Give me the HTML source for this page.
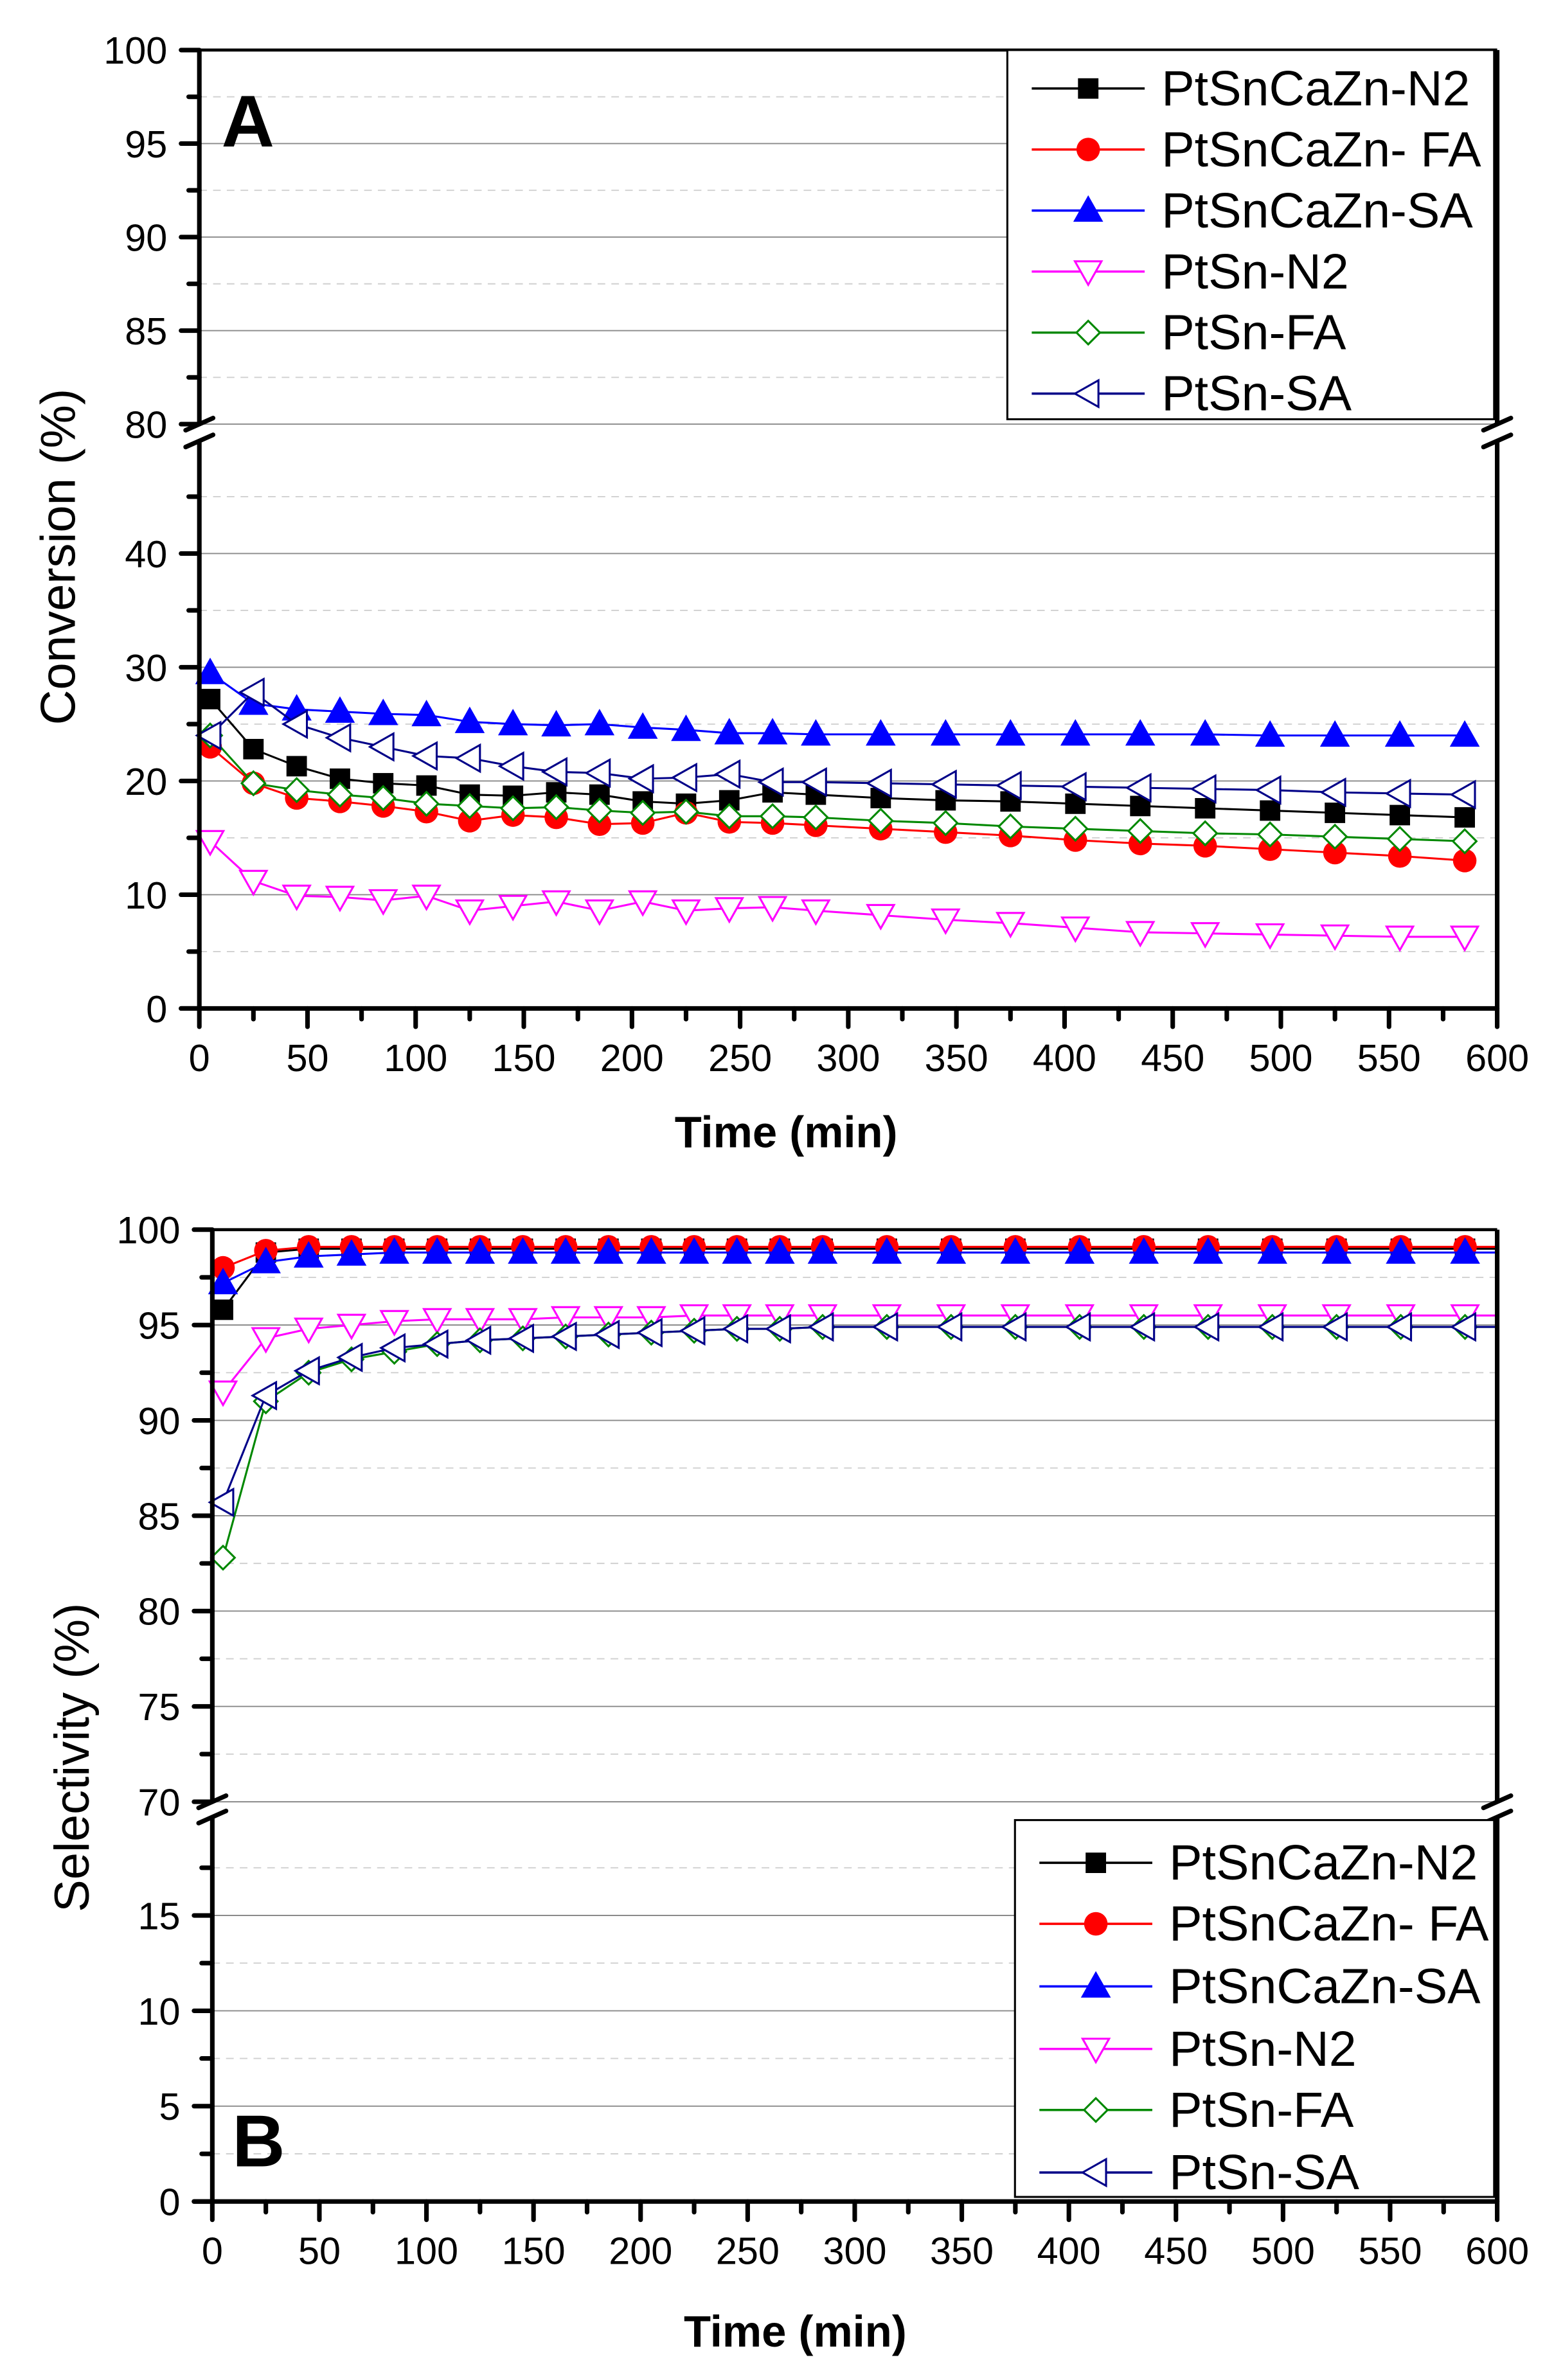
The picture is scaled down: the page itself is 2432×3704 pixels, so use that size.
<!DOCTYPE html>
<html><head><meta charset="utf-8"><style>
html,body{margin:0;padding:0;background:#fff}
svg{display:block}
text{font-family:"Liberation Sans",Arial,sans-serif}
</style></head><body>
<svg id="s" width="2432" height="3704" viewBox="0 0 1024 1560" xmlns="http://www.w3.org/2000/svg">
<rect width="1024" height="1560" fill="#fff"/>
<g id="g"></g>
<text x="515" y="752" font-size="29" font-weight="bold" text-anchor="middle">Time (min)</text>
<text x="521" y="1538" font-size="29" font-weight="bold" text-anchor="middle">Time (min)</text>
<text transform="translate(49,365) rotate(-90)" font-size="32" text-anchor="middle">Conversion (%)</text>
<text transform="translate(58,1152) rotate(-90)" font-size="32" text-anchor="middle">Selectivity (%)</text>
<text x="145" y="96" font-size="48" font-weight="bold">A</text>
<text x="152" y="1420" font-size="48" font-weight="bold">B</text>
</svg>
<script>
const NS="http://www.w3.org/2000/svg",G=document.getElementById('g');
function el(t,a,txt){const e=document.createElementNS(NS,t);for(const k in a)e.setAttribute(k,a[k]);if(txt!==undefined)e.textContent=txt;G.appendChild(e);return e;}
const T=[5,25,45,65,85,105,125,145,165,185,205,225,245,265,285,315,345,375,405,435,465,495,525,555,585];
const styles=[
 {c:'#000',m:'sq',f:'#000'},{c:'#f00',m:'ci',f:'#f00'},{c:'#00f',m:'tu',f:'#00f'},
 {c:'#f0f',m:'td',f:'#fff'},{c:'#080',m:'di',f:'#fff'},{c:'#008',m:'tl',f:'#fff'}];
function marker(x,y,s){const r=6.7;
 if(s.m=='sq')el('rect',{x:x-r,y:y-r,width:2*r,height:2*r,fill:s.f});
 else if(s.m=='ci')el('circle',{cx:x,cy:y,r:7.7,fill:s.f});
 else{let p;
  if(s.m=='tu')p=[[x,y-r-2],[x+r+2,y+r],[x-r-2,y+r]];
  if(s.m=='td')p=[[x,y+r+2],[x+r+2,y-r],[x-r-2,y-r]];
  if(s.m=='di')p=[[x,y-r-1],[x+r+1,y],[x,y+r+1],[x-r-1,y]];
  if(s.m=='tl')p=[[x-r-2,y],[x+r,y-r-2],[x+r,y+r+2]];
  el('polygon',{points:p.map(q=>q.join(',')).join(' '),fill:s.f,stroke:s.c,'stroke-width':1.3});}
}
function panel(o){
 const X=t=>o.x0+(o.x1-o.x0)*t/600;
 const Y=v=>v>=o.brk?o.uy0+(v-o.ulo)*(o.uy1-o.uy0)/(o.uhi-o.ulo):o.ly0+v*(o.ly1-o.ly0)/o.lhi;
 o.minor.forEach(v=>{el('line',{x1:o.x0,x2:o.x1,y1:Y(v),y2:Y(v),stroke:'#d0d0d0','stroke-width':0.8,'stroke-dasharray':'5,4'});});
 o.uticks.concat(o.lticks).forEach(v=>{el('line',{x1:o.x0,x2:o.x1,y1:Y(v),y2:Y(v),stroke:'#8a8a8a','stroke-width':0.8});});
 o.data.forEach((d,i)=>{const s=styles[i];let pts=T.map((t,j)=>[X(t),Y(d[j])]);
  if(o.ext)pts.push([X(600),Y(d[d.length-1])]);
  el('polyline',{points:pts.map(p=>p.join(',')).join(' '),fill:'none',stroke:s.c,'stroke-width':1.3});
  T.forEach((t,j)=>marker(X(t),Y(d[j]),s));});
 el('line',{x1:o.x0,x2:o.x1,y1:o.uy1,y2:o.uy1,stroke:'#000','stroke-width':2});
 el('line',{x1:o.x0-12,x2:o.x1,y1:o.ly0,y2:o.ly0,stroke:'#000','stroke-width':3,'stroke-linecap':'round'});
 [o.x0,o.x1].forEach(x=>{
  el('line',{x1:x,x2:x,y1:o.uy1,y2:o.uy0,stroke:'#000','stroke-width':3});
  el('line',{x1:x,x2:x,y1:o.ly1,y2:o.ly0,stroke:'#000','stroke-width':3});
  el('line',{x1:x-9,y1:o.uy0+4,x2:x+9,y2:o.uy0-4,stroke:'#000','stroke-width':3,'stroke-linecap':'round'});
  el('line',{x1:x-9,y1:o.ly1+4,x2:x+9,y2:o.ly1-4,stroke:'#000','stroke-width':3,'stroke-linecap':'round'});});
 o.uticks.concat(o.lticks).forEach(v=>{const y=Y(v);
  el('line',{x1:o.x0-12,x2:o.x0,y1:y,y2:y,stroke:'#000','stroke-width':3,'stroke-linecap':'round'});
  el('text',{x:o.x0-21,y:y+9,'font-size':25,'text-anchor':'end'},String(v));});
 o.minor.forEach(v=>{const y=Y(v);el('line',{x1:o.x0-7,x2:o.x0,y1:y,y2:y,stroke:'#000','stroke-width':3,'stroke-linecap':'round'});});
 for(let t=0;t<=600;t+=50){const x=X(t);
  el('line',{x1:x,x2:x,y1:o.ly0,y2:o.ly0+12,stroke:'#000','stroke-width':3,'stroke-linecap':'round'});
  el('text',{x:x,y:o.ly0+41,'font-size':25,'text-anchor':'middle'},String(t));}
 for(let t=25;t<600;t+=50){const x=X(t);el('line',{x1:x,x2:x,y1:o.ly0,y2:o.ly0+7,stroke:'#000','stroke-width':3,'stroke-linecap':'round'});}
 const L=o.leg;el('rect',{x:L.x,y:L.y,width:L.w,height:L.h,fill:'#fff',stroke:'#000','stroke-width':1.3});
 const names=['PtSnCaZn-N2','PtSnCaZn- FA','PtSnCaZn-SA','PtSn-N2','PtSn-FA','PtSn-SA'];
 names.forEach((n,i)=>{const y=L.ys[i],s=styles[i];
  el('line',{x1:L.x+16,x2:L.x+90,y1:y,y2:y,stroke:s.c,'stroke-width':1.5});marker(L.x+53,y,s);
  el('text',{x:L.x+101,y:y+11,'font-size':32.5},n);});
}
const A=[
[27.2,22.8,21.3,20.2,19.8,19.6,18.8,18.7,19.0,18.8,18.2,18.0,18.3,19.0,18.8,18.5,18.3,18.2,18.0,17.8,17.6,17.4,17.2,17.0,16.8],
[23,19.8,18.5,18.2,17.8,17.3,16.5,17.0,16.8,16.2,16.3,17.2,16.4,16.3,16.1,15.8,15.5,15.2,14.8,14.5,14.3,14.0,13.7,13.4,13.0],
[29.5,26.8,26.3,26.1,25.9,25.8,25.2,25.0,24.9,25.0,24.7,24.5,24.2,24.2,24.1,24.1,24.1,24.1,24.1,24.1,24.1,24.0,24.0,24.0,24.0],
[14.7,11.2,9.9,9.8,9.5,9.9,8.6,9.0,9.4,8.6,9.4,8.6,8.8,8.9,8.6,8.2,7.8,7.5,7.1,6.7,6.6,6.5,6.4,6.3,6.3],
[24,19.8,19.2,18.8,18.5,18.0,17.8,17.6,17.7,17.4,17.2,17.3,16.9,16.9,16.8,16.5,16.3,16.0,15.8,15.6,15.4,15.3,15.1,14.9,14.7],
[24,27.8,25,23.8,23,22.2,22,21.3,20.8,20.7,20.2,20.3,20.6,19.9,19.9,19.8,19.7,19.6,19.5,19.4,19.3,19.2,19.0,18.9,18.8]];
function fill(a){while(a.length<25)a.push(a[a.length-1]);return a;}
const B=[
fill([95.8,98.8,99.0]),fill([98.0,98.9,99.1]),fill([97.2,98.3,98.6,98.7,98.8]),
fill([91.5,94.3,94.8,95.0,95.2,95.3,95.3,95.3,95.4,95.4,95.4,95.5]),
fill([82.8,91.0,92.5,93.2,93.6,94.0,94.2,94.3,94.4,94.5,94.6,94.7,94.8,94.8,94.9]),
fill([85.7,91.3,92.6,93.3,93.8,94.0,94.2,94.3,94.4,94.5,94.6,94.7,94.8,94.8,94.9])];
panel({x0:130.5,x1:981,uy0:278,uy1:32.8,ulo:80,uhi:100,brk:79,ly0:661,ly1:289,lhi:49.9,
 uticks:[80,85,90,95,100],lticks:[0,10,20,30,40],minor:[5,15,25,35,45,82.5,87.5,92.5,97.5],data:A,ext:false,
 leg:{x:660,y:32.8,w:319,h:242,ys:[58,98,138,178,218,258]}});
panel({x0:139,x1:981,uy0:1181,uy1:806,ulo:70,uhi:100,brk:69,ly0:1443,ly1:1191,lhi:20.16,
 uticks:[70,75,80,85,90,95,100],lticks:[0,5,10,15],minor:[2.5,7.5,12.5,17.5,72.5,77.5,82.5,87.5,92.5,97.5],data:B,ext:true,
 leg:{x:665,y:1193,w:314,h:247,ys:[1221,1261,1302,1343,1383,1424]}});
</script>
</body></html>
